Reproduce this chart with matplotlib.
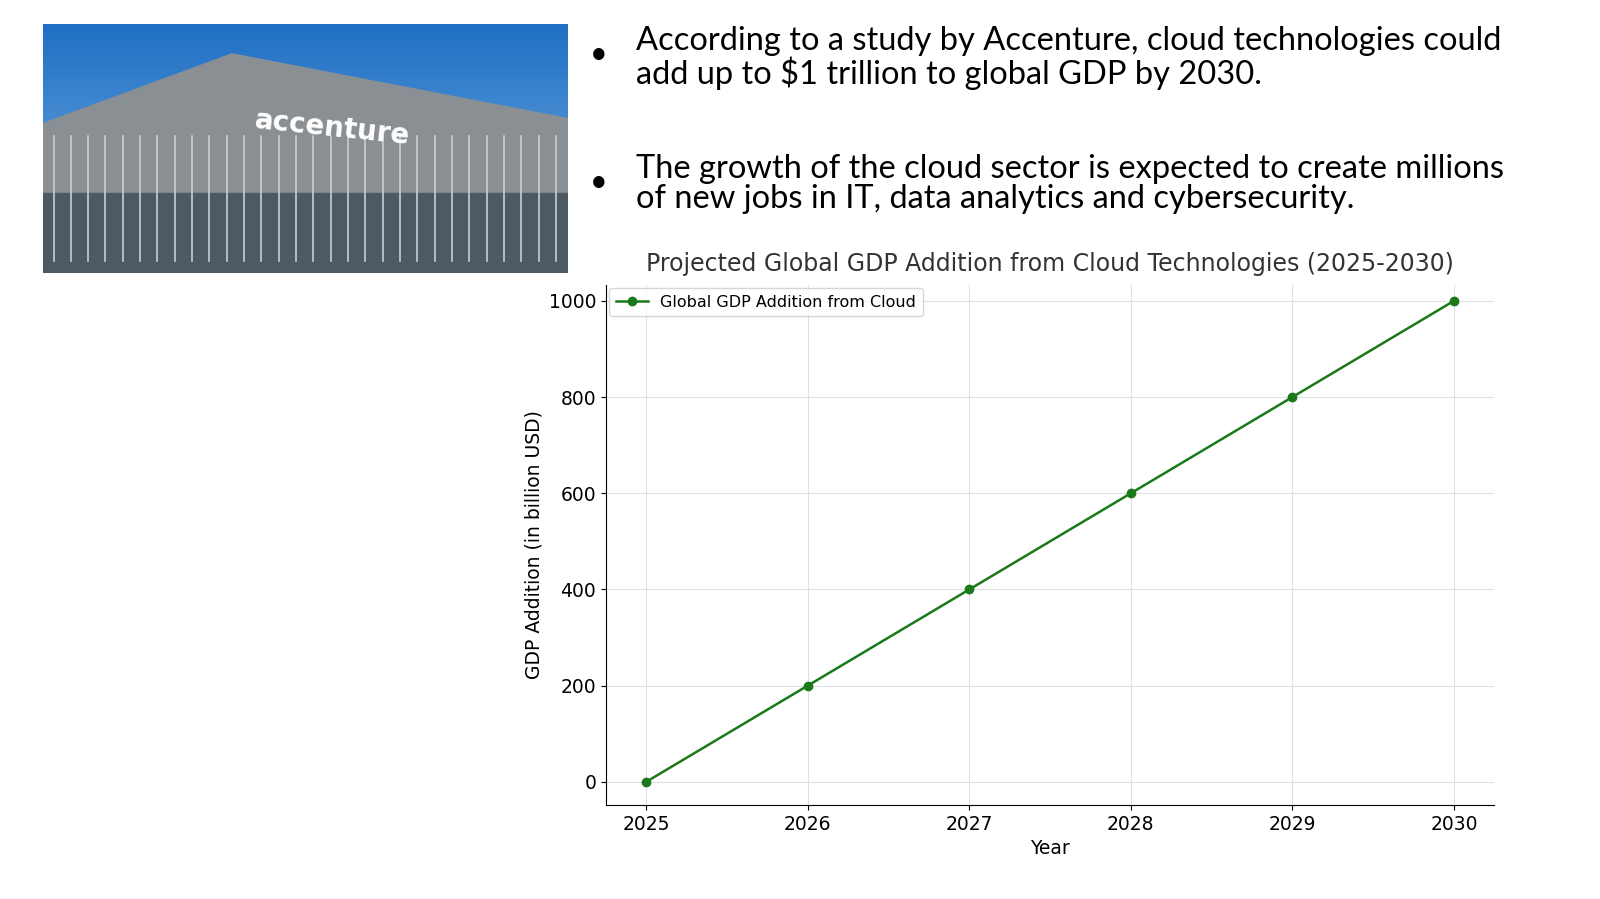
import matplotlib
matplotlib.use("Agg")
import matplotlib.pyplot as plt
import numpy as np

years = [2025, 2026, 2027, 2028, 2029, 2030]
gdp = [0, 200, 400, 600, 800, 1000]
bullets = ["According to a study by Accenture, cloud technologies could\nadd up to $1 trillion to global GDP by 2030.",
           "The growth of the cloud sector is expected to create millions\nof new jobs in IT, data analytics and cybersecurity."]

W, H = 1600, 899
fig = plt.figure(figsize=(16, 8.99), dpi=100)

def fr(x0, y0, x1, y1):
    return [x0 / W, 1 - y1 / H, (x1 - x0) / W, (y1 - y0) / H]

# photo placeholder
pa = fig.add_axes(fr(43, 24, 568, 273))
sky = np.linspace(0, 1, 100).reshape(-1, 1)
pa.imshow(sky, cmap=matplotlib.colors.LinearSegmentedColormap.from_list("s", ["#1f6fc4", "#7fb6e6"]),
          extent=[0, 1, 0, 1], aspect="auto", origin="upper")
pa.fill([0, 0.36, 1, 1, 0], [0.6, 0.88, 0.62, 0, 0], color="#8a8f94")
pa.fill([0, 1, 1, 0], [0, 0, 0.32, 0.32], color="#4e5a63")
for i in range(30):
    pa.plot([0.02 + i * 0.033] * 2, [0.05, 0.55], color="#c8cdd2", lw=1.2)
pa.text(0.55, 0.58, "accenture", color="white", fontsize=20, fontweight="bold",
        rotation=-6, ha="center", va="center")
pa.set_xlim(0, 1); pa.set_ylim(0, 1); pa.axis("off")

# bullets
for by, t in zip([40, 168], bullets):
    fig.text(590 / W, 1 - by / H, "•", fontsize=22, va="top", family="Lato")
    fig.text(636 / W, 1 - (by - 14) / H, t, fontsize=23.5, va="top", family="Lato", linespacing=1.0)

ax = fig.add_axes(fr(606, 285, 1494, 805))
ax.plot(years, gdp, color="#1a7a1a", marker="o", markersize=6, lw=1.8, label="Global GDP Addition from Cloud")
ax.set_xlim(2025 - 0.248, 2030 + 0.248)
ax.set_ylim(-48, 1033)
ax.set_xticks(years)
ax.set_yticks([0, 200, 400, 600, 800, 1000])
ax.grid(True, color="#e0e0e0", lw=0.8)
ax.tick_params(labelsize=13.5)
for s in ["top", "right"]:
    ax.spines[s].set_visible(False)
ax.set_xlabel("Year", fontsize=13.5)
ax.set_ylabel("GDP Addition (in billion USD)", fontsize=13.5)
ax.set_title("Projected Global GDP Addition from Cloud Technologies (2025-2030)", fontsize=17, color="#333333", pad=10)
ax.legend(loc="upper left", fontsize=11.5, borderaxespad=0.2)

fig.savefig("out.png", dpi=100)
